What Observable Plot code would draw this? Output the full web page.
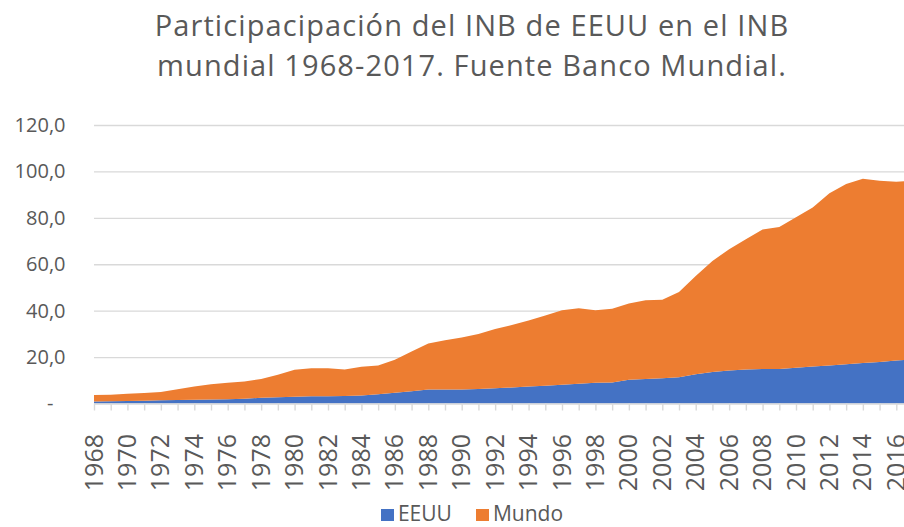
<!DOCTYPE html>
<html>
<head>
<meta charset="utf-8">
<script src="https://cdn.jsdelivr.net/npm/d3@7"></script>
<script src="https://cdn.jsdelivr.net/npm/@observablehq/plot@0.6"></script>
<style>
  html, body { margin: 0; padding: 0; background: #fff; }
  body { width: 904px; height: 527px; overflow: hidden; position: relative; font-family: "Open Sans", sans-serif; color: #595959; }
  #title { position: absolute; top: 5px; left: 0; width: 904px; box-sizing: border-box; padding-left: 40px; text-align: center; font-size: 29px; letter-spacing: 1.1px; color: #595959; white-space: nowrap; }
  #title div { height: 40px; line-height: 40px; }
  #plot { position: absolute; top: 100px; left: 0; width: 930px; }
  #plot svg { max-width: none !important; }
  #legend { position: absolute; top: 501px; left: 0; width: 904px; height: 24px; box-sizing: border-box; padding-left: 40px; display: flex; justify-content: center; align-items: center; font-size: 21px; line-height: 24px; }
  .item { display: flex; align-items: center; margin: 0 12px; }
  .sw { width: 13px; height: 12px; margin-right: 4px; margin-top: 3px; }
</style>
</head>
<body>
<div id="title"><div>Participacipación del INB de EEUU en el INB</div><div>mundial 1968-2017. Fuente Banco Mundial.</div></div>
<div id="plot"></div>
<div id="legend"></div>
<script>
// Years 1968-2017
const years = [1968,1969,1970,1971,1972,1973,1974,1975,1976,1977,1978,1979,1980,1981,1982,1983,1984,1985,1986,1987,1988,1989,1990,1991,1992,1993,1994,1995,1996,1997,1998,1999,2000,2001,2002,2003,2004,2005,2006,2007,2008,2009,2010,2011,2012,2013,2014,2015,2016,2017];
// EEUU series (billones USD)
const eeuu = [0.9,1.0,1.1,1.2,1.4,1.5,1.6,1.7,1.8,2.0,2.5,2.7,2.9,3.1,3.1,3.2,3.5,4.0,4.6,5.3,6.0,6.0,6.0,6.2,6.6,6.9,7.3,7.7,8.1,8.5,8.9,9.0,10.2,10.6,10.9,11.3,12.6,13.6,14.2,14.6,14.9,14.9,15.4,15.9,16.4,16.9,17.4,17.9,18.5,19.0];
// Mundo series (stacked on top of EEUU)
const mundo = [2.8,2.8,3.1,3.3,3.6,4.6,5.7,6.6,7.1,7.5,8.1,9.7,11.6,12.1,12.1,11.4,12.3,12.4,14.2,17.1,19.9,21.2,22.4,23.8,25.5,26.9,28.5,30.2,32.1,32.5,31.3,31.8,32.9,33.9,33.8,36.7,42.3,47.8,52.3,56.2,60.1,61.2,64.8,68.6,74.2,77.7,79.4,78.1,77.1,76.9];
const seriesNames = ["EEUU", "Mundo"];
const seriesColors = ["#4472C4", "#ED7D31"];
const yTicks = [0, 20, 40, 60, 80, 100, 120];
const xLabelYears = years.filter(y => y % 2 === 0);

const data = [
  ...years.map((y, i) => ({year: y, series: "EEUU", value: eeuu[i]})),
  ...years.map((y, i) => ({year: y, series: "Mundo", value: mundo[i]}))
];

const fmt = d => d.toFixed(1).replace(".", ",");

const chart = Plot.plot({
  width: 930,
  height: 400,
  marginLeft: 94,
  marginRight: 17,
  marginTop: 25,
  marginBottom: 96.5,
  style: {fontFamily: "Open Sans, sans-serif", color: "#595959", background: "transparent", maxWidth: "none"},
  x: {type: "linear", domain: [1968, 2017]},
  y: {domain: [0, 120]},
  color: {domain: seriesNames, range: seriesColors},
  marks: [
    Plot.gridY(yTicks.filter(d => d > 0), {stroke: "#d9d9d9", strokeOpacity: 1, strokeWidth: 1.4}),
    Plot.areaY(data, {x: "year", y: "value", fill: "series", order: seriesNames, curve: "linear"}),
    Plot.ruleY([0], {stroke: "#d9d9d9", strokeWidth: 1.4}),
    Plot.axisY(yTicks.filter(d => d > 0), {tickSize: 0, tickPadding: 29, tickFormat: fmt, fontSize: 20, fill: "#595959", label: null}),
    Plot.axisY([0], {tickSize: 0, tickPadding: 41, tickFormat: () => "-", fontSize: 20, fill: "#595959", label: null}),
    Plot.axisX(years, {tickSize: 7, stroke: "#d9d9d9", strokeWidth: 1.4, strokeOpacity: 1, tickFormat: () => "", label: null}),
    Plot.axisX(xLabelYears, {tickSize: 0, tickPadding: 30, tickRotate: -90, fontSize: 25, fill: "#595959", tickFormat: d => String(d), label: null})
  ]
});
document.getElementById("plot").appendChild(chart);

const legend = document.getElementById("legend");
seriesNames.forEach((name, i) => {
  const item = document.createElement("div");
  item.className = "item";
  const sw = document.createElement("span");
  sw.className = "sw";
  sw.style.background = seriesColors[i];
  const t = document.createElement("span");
  t.textContent = name;
  item.appendChild(sw);
  item.appendChild(t);
  legend.appendChild(item);
});
</script>
</body>
</html>
